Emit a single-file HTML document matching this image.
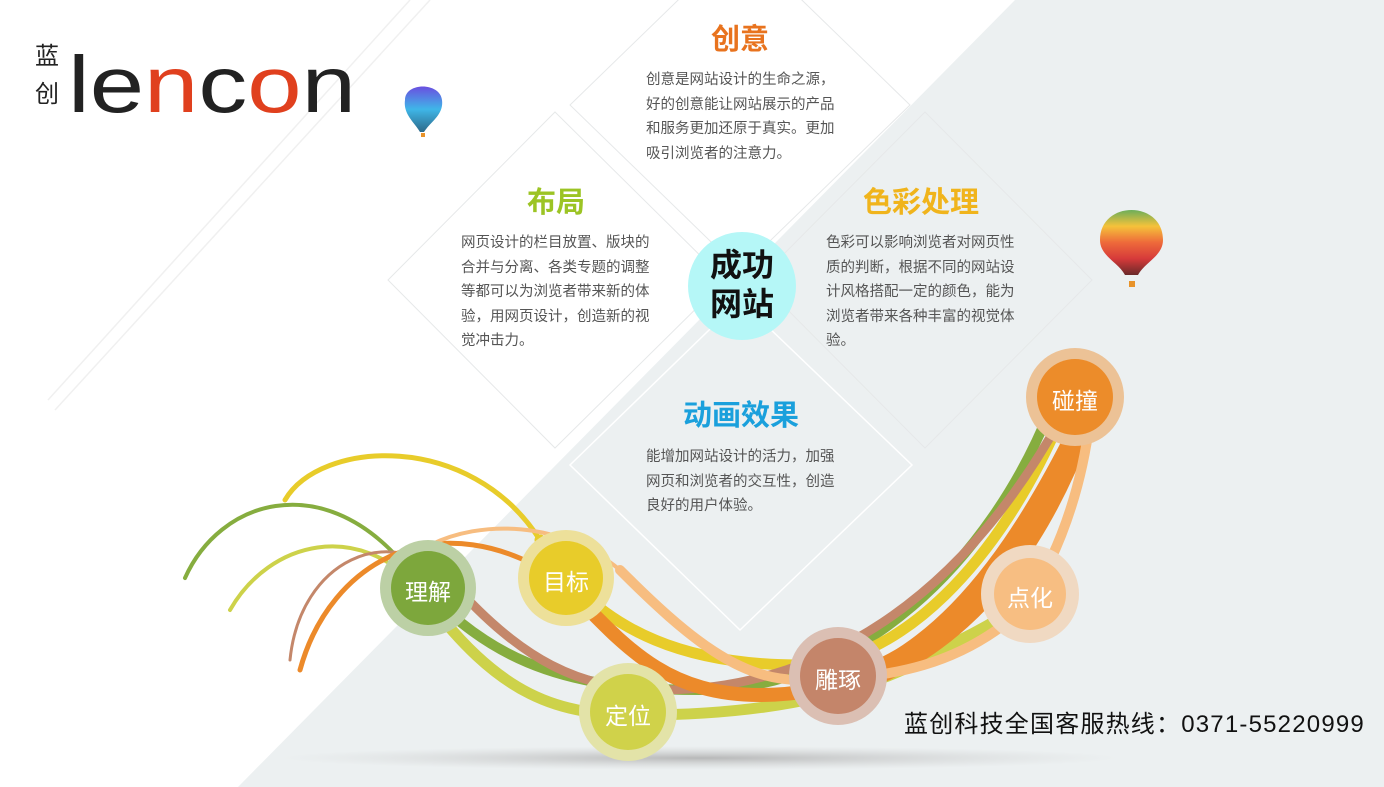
<!DOCTYPE html>
<html><head><meta charset="utf-8"><style>
html,body{margin:0;padding:0;}
body{width:1384px;height:787px;position:relative;overflow:hidden;background:#fff;font-family:"Liberation Sans","Noto Sans CJK SC",sans-serif;}
.t{position:absolute;font-weight:bold;font-size:29px;text-align:center;white-space:nowrap;}
.p{position:absolute;font-size:14.5px;line-height:24.5px;color:#555;white-space:nowrap;}
</style></head><body>
<svg width="1384" height="787" style="position:absolute;left:0;top:0">
<defs>
<radialGradient id="sh" cx="50%" cy="50%" r="50%"><stop offset="0" stop-color="#aaa" stop-opacity=".8"/><stop offset="1" stop-color="#ccc" stop-opacity="0"/></radialGradient>
<linearGradient id="b1" x1="0" y1="0" x2="0" y2="1"><stop offset="0" stop-color="#6a4fe0"/><stop offset=".5" stop-color="#3fb6e8"/><stop offset="1" stop-color="#2d6a8a"/></linearGradient>
<linearGradient id="b2" x1="0" y1="0" x2="0" y2="1"><stop offset="0" stop-color="#6cae5a"/><stop offset=".25" stop-color="#f5c23a"/><stop offset=".5" stop-color="#ee6a3a"/><stop offset=".75" stop-color="#d63a3a"/><stop offset="1" stop-color="#6a2a2a"/></linearGradient>
</defs>
<polygon points="1015,0 1384,0 1384,787 238,787" fill="#ecf0f1"/>
<g stroke="#f0f0f0" stroke-width="1.5" fill="none">
<line x1="410" y1="0" x2="48" y2="400"/><line x1="430" y1="0" x2="55" y2="410"/>
</g>
<g stroke="#e6e8e9" stroke-width="1" fill="none">
<polygon points="740,-60 910,105 740,270 570,105"/>
<polygon points="555,112 725,280 555,448 388,280"/>
<polygon points="925,112 1092,280 925,448 758,280"/>
<polygon points="740,300 912,465 740,630 570,465" stroke="#fff" stroke-width="1.5"/>
</g>
<ellipse cx="700" cy="758" rx="420" ry="12" fill="url(#sh)"/>
<g fill="none" stroke-linecap="round">
<path d="M185,578 C220,500 320,470 400,560" stroke="#86ad3f" stroke-width="4"/>
<path d="M400,560 C480,660 560,690 700,690 C860,690 990,560 1050,410" stroke="#86ad3f" stroke-width="10"/>
<path d="M285,500 C320,440 470,430 540,540" stroke="#e8cc2a" stroke-width="5"/>
<path d="M540,540 C600,640 700,665 800,665 C900,665 1000,560 1060,420" stroke="#e8cc2a" stroke-width="11"/>
<path d="M230,610 C270,540 360,520 420,590" stroke="#cdd24a" stroke-width="4"/>
<path d="M420,590 C500,700 560,715 640,715 C780,715 880,690 960,640 C1000,620 1030,600 1040,590" stroke="#cdd24a" stroke-width="11"/>
<path d="M290,660 C300,560 390,520 450,580" stroke="#c4876a" stroke-width="3"/>
<path d="M450,580 C520,660 580,690 660,690 C820,690 960,600 1060,420" stroke="#c4876a" stroke-width="9"/>
<path d="M300,670 C330,560 440,500 560,580" stroke="#ec8a2a" stroke-width="5"/>
<path d="M560,580 C620,640 660,695 760,695 C900,695 990,600 1075,430" stroke="#ec8a2a" stroke-width="14"/>
<path d="M860,680 C960,640 1030,560 1080,430" stroke="#ec8a2a" stroke-width="24"/>
<path d="M430,545 C480,520 560,520 620,570" stroke="#f7bd80" stroke-width="4"/>
<path d="M620,570 C690,640 740,680 800,680 C900,680 960,660 1010,620 C1050,580 1080,500 1090,420" stroke="#f7bd80" stroke-width="10"/>
</g>
<g>
<circle cx="428" cy="588" r="48" fill="#bcd0a5"/><circle cx="428" cy="588" r="37" fill="#7da73c"/>
<circle cx="566" cy="578" r="48" fill="#ede09a"/><circle cx="566" cy="578" r="37" fill="#e8cc2a"/>
<circle cx="628" cy="712" r="49" fill="#e3e3a8"/><circle cx="628" cy="712" r="38" fill="#d0d24a"/>
<circle cx="838" cy="676" r="49" fill="#dbbfb3"/><circle cx="838" cy="676" r="38" fill="#c4856a"/>
<circle cx="1030" cy="594" r="49" fill="#f0d9c2"/><circle cx="1030" cy="594" r="36" fill="#f7be82"/>
<circle cx="1075" cy="397" r="49" fill="#ecc296"/><circle cx="1075" cy="397" r="38" fill="#ec8c2a"/>
</g>
<circle cx="742" cy="286" r="54" fill="#b5f7f7"/>
<path d="M405,100 C405,82 440,82 442,100 C444,115 430,122 424,132 L420,132 C414,122 403,114 405,100Z" fill="url(#b1)"/>
<rect x="421" y="133" width="4" height="4" fill="#e8932a"/>
<path d="M1100,240 C1100,200 1163,200 1163,240 C1163,256 1145,262 1138,275 L1125,275 C1118,262 1100,256 1100,240Z" fill="url(#b2)"/>
<rect x="1129" y="281" width="6" height="6" fill="#e8932a"/>
<text x="68" y="112" font-family="Liberation Sans,sans-serif" font-size="80" font-weight="normal" textLength="288" lengthAdjust="spacingAndGlyphs"><tspan fill="#222">le</tspan><tspan fill="#e0401e">n</tspan><tspan fill="#222">c</tspan><tspan fill="#e0401e">o</tspan><tspan fill="#222">n</tspan></text>
</svg>
<div style="position:absolute;left:35px;top:38px;font-size:24px;line-height:38px;width:26px;color:#222;">蓝<br>创</div>

<div class="t" style="left:640px;top:16px;width:200px;color:#e8731e;">创意</div>
<div class="p" style="left:646px;top:68px;">创意是网站设计的生命之源，<br>好的创意能让网站展示的产品<br>和服务更加还原于真实。更加<br>吸引浏览者的注意力。</div>

<div class="t" style="left:456px;top:179px;width:200px;color:#9cc424;">布局</div>
<div class="p" style="left:461px;top:231px;">网页设计的栏目放置、版块的<br>合并与分离、各类专题的调整<br>等都可以为浏览者带来新的体<br>验，用网页设计，创造新的视<br>觉冲击力。</div>

<div class="t" style="left:821px;top:179px;width:200px;color:#f0b41c;">色彩处理</div>
<div class="p" style="left:826px;top:231px;">色彩可以影响浏览者对网页性<br>质的判断，根据不同的网站设<br>计风格搭配一定的颜色，能为<br>浏览者带来各种丰富的视觉体<br>验。</div>

<div class="t" style="left:641px;top:392px;width:200px;color:#1aa0dc;">动画效果</div>
<div class="p" style="left:646px;top:445px;">能增加网站设计的活力，加强<br>网页和浏览者的交互性，创造<br>良好的用户体验。</div>

<div style="position:absolute;left:692px;top:246px;width:100px;text-align:center;font-size:32px;line-height:39px;font-weight:bold;color:#111;">成功<br>网站</div>

<div style="position:absolute;color:#fff;font-size:23px;">
<div style="position:absolute;left:378px;top:573px;width:100px;text-align:center;">理解</div>
<div style="position:absolute;left:516px;top:563px;width:100px;text-align:center;">目标</div>
<div style="position:absolute;left:578px;top:697px;width:100px;text-align:center;">定位</div>
<div style="position:absolute;left:788px;top:661px;width:100px;text-align:center;">雕琢</div>
<div style="position:absolute;left:980px;top:579px;width:100px;text-align:center;">点化</div>
<div style="position:absolute;left:1025px;top:382px;width:100px;text-align:center;">碰撞</div>
</div>
<div style="position:absolute;left:904px;top:704px;font-size:24px;color:#111;white-space:nowrap;letter-spacing:1.2px;">蓝创科技全国客服热线：0371-55220999</div>
</body></html>
